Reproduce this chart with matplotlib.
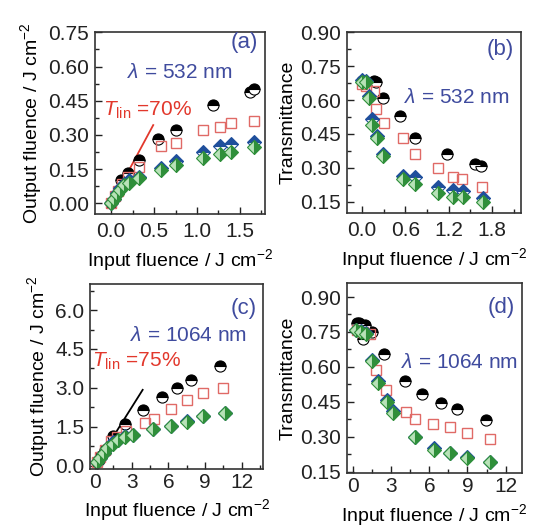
import matplotlib
matplotlib.use('Agg')
import matplotlib.pyplot as plt
from matplotlib.ticker import MultipleLocator

plt.rcParams['font.family'] = ['Liberation Sans', 'DejaVu Sans']
plt.rcParams['mathtext.fontset'] = 'custom'
plt.rcParams['mathtext.rm'] = 'Liberation Sans'
plt.rcParams['mathtext.it'] = 'Liberation Sans:italic'

# ─────────────────────────────────────────────
# Data
# ─────────────────────────────────────────────
# (a) output fluence, 532 nm
a_black_x = [0.0, 0.12, 0.20, 0.33, 0.54, 0.75, 1.19, 1.62, 1.66]
a_black_y = [0.0, 0.10, 0.135, 0.19, 0.28, 0.32, 0.43, 0.49, 0.50]
a_red_x = [0.0, 0.04, 0.08, 0.13, 0.20, 0.33, 0.58, 0.75, 1.07, 1.27, 1.40, 1.67]
a_red_y = [0.0, 0.03, 0.055, 0.085, 0.115, 0.16, 0.25, 0.265, 0.32, 0.335, 0.35, 0.36]
a_dia_x = [0.0, 0.03, 0.07, 0.10, 0.15, 0.21, 0.33, 0.58, 0.75, 1.07, 1.27, 1.40, 1.67]
a_blue_y = [0.0, 0.02, 0.045, 0.065, 0.085, 0.10, 0.115, 0.155, 0.185, 0.225, 0.25, 0.26, 0.27]
a_green_y = [0.0, 0.02, 0.04, 0.06, 0.08, 0.09, 0.11, 0.145, 0.17, 0.20, 0.215, 0.225, 0.245]

# (b) transmittance, 532 nm
b_black_x = [0.0, 0.16, 0.19, 0.29, 0.52, 0.73, 1.18, 1.57, 1.64]
b_black_y = [0.686, 0.686, 0.68, 0.61, 0.53, 0.43, 0.36, 0.315, 0.31]
b_red_x = [0.0, 0.05, 0.16, 0.20, 0.30, 0.565, 0.74, 1.05, 1.26, 1.39, 1.66]
b_red_y = [0.67, 0.66, 0.64, 0.56, 0.50, 0.434, 0.36, 0.30, 0.26, 0.25, 0.216]
b_dia_x = [0.0, 0.05, 0.095, 0.14, 0.21, 0.29, 0.565, 0.73, 1.05, 1.26, 1.40, 1.67]
b_blue_y = [0.69, 0.685, 0.62, 0.515, 0.44, 0.36, 0.265, 0.26, 0.215, 0.20, 0.195, 0.165]
b_green_y = [0.68, 0.68, 0.61, 0.49, 0.43, 0.35, 0.25, 0.23, 0.19, 0.17, 0.17, 0.15]

# (c) output fluence, 1064 nm
c_black_x = [0.3, 0.5, 0.8, 1.5, 2.45, 3.95, 5.45, 6.7, 7.85, 10.2]
c_black_y = [0.24, 0.39, 0.6, 1.13, 1.6, 2.15, 2.65, 3.0, 3.3, 3.85]
c_red_x = [0.2, 0.45, 0.8, 1.3, 1.8, 2.5, 4.1, 4.8, 6.2, 7.5, 8.8, 10.5]
c_red_y = [0.15, 0.33, 0.6, 0.95, 1.1, 1.35, 1.65, 1.8, 2.2, 2.55, 2.8, 3.0]
c_dia_x = [0.2, 0.4, 0.7, 1.0, 1.5, 1.9, 2.45, 3.1, 4.75, 6.2, 7.55, 8.8, 10.6]
c_blue_y = [0.15, 0.3, 0.5, 0.7, 0.9, 1.0, 1.15, 1.2, 1.42, 1.55, 1.72, 1.9, 2.05]
c_green_y = [0.14, 0.28, 0.48, 0.68, 0.85, 0.98, 1.12, 1.18, 1.4, 1.52, 1.7, 1.9, 2.02]

# (d) transmittance, 1064 nm
d_black_x = [0.3, 0.5, 0.75, 0.9, 1.5, 2.45, 4.1, 5.45, 6.9, 8.15, 10.45]
d_black_y = [0.79, 0.79, 0.72, 0.78, 0.75, 0.655, 0.54, 0.485, 0.445, 0.42, 0.37]
d_red_x = [0.3, 0.75, 1.3, 1.8, 2.55, 4.15, 4.9, 6.3, 7.6, 8.95, 10.75]
d_red_y = [0.76, 0.75, 0.74, 0.585, 0.50, 0.405, 0.375, 0.355, 0.34, 0.318, 0.289]
d_dia_x = [0.25, 0.6, 1.0, 1.5, 1.95, 2.7, 3.1, 4.85, 6.35, 7.65, 9.0, 10.75]
d_blue_y = [0.76, 0.755, 0.745, 0.63, 0.54, 0.46, 0.41, 0.30, 0.25, 0.23, 0.215, 0.19]
d_green_y = [0.76, 0.75, 0.74, 0.625, 0.53, 0.45, 0.40, 0.30, 0.245, 0.23, 0.21, 0.19]

# linear transmittance guide lines
a_lin_x = [0.0, 0.49]
a_lin_t = 0.70
c_lin_x = [0.0, 3.9]
c_lin_t = 0.75

BLUE_TXT = '#3f4b9e'
RED_TXT = '#e2382c'
RED_SQ = '#e06a66'
BLUE_DIA = '#1f4f9c'
GREEN_DIA = '#2f8f3a'

XLABEL = 'Input fluence / J cm$^{-2}$'
FS = 15


def draw_series(ax, bx, by, rx, ry, dx, blue_y, green_y):
    ax.plot(bx, by, ls='none', marker='o', ms=8, fillstyle='top',
            mfc='black', mfcalt='white', mec='black', mew=0.8)
    ax.plot(rx, ry, ls='none', marker='s', ms=7, mfc='none',
            mec=RED_SQ, mew=1.0)
    ax.plot(dx, blue_y, ls='none', marker='D', ms=7, fillstyle='top',
            mfc=BLUE_DIA, mfcalt='white', mec=BLUE_DIA, mew=0.8)
    ax.plot(dx, green_y, ls='none', marker='D', ms=7, fillstyle='right',
            mfc=GREEN_DIA, mfcalt='#b8e2b8', mec=GREEN_DIA, mew=0.8)


def style_axes(ax, xlim, ylim, xmaj, ymaj, xfmt, yfmt, xpad):
    ax.set_xlim(*xlim)
    ax.set_ylim(*ylim)
    ax.xaxis.set_major_locator(MultipleLocator(xmaj))
    ax.xaxis.set_minor_locator(MultipleLocator(xmaj / 2))
    ax.yaxis.set_major_locator(MultipleLocator(ymaj))
    ax.yaxis.set_minor_locator(MultipleLocator(ymaj / 2))
    ax.xaxis.set_major_formatter(xfmt)
    ax.yaxis.set_major_formatter(yfmt)
    ax.tick_params(which='both', direction='in', top=False, right=False,
                   labelsize=FS, colors='#222222', width=1.0)
    ax.tick_params(which='major', length=5, pad=4)
    ax.tick_params(which='minor', length=3)
    ax.tick_params(axis='x', which='major', pad=xpad)
    for sp in ax.spines.values():
        sp.set_linewidth(1.2)
        sp.set_color('#333333')


fig = plt.figure(figsize=(5.36, 5.31), dpi=100)

# ── (a) ──
ax = fig.add_axes([0.177, 0.597, 0.317, 0.343])
ax.plot(a_lin_x, [v * a_lin_t for v in a_lin_x], color=RED_TXT, lw=1.3)
draw_series(ax, a_black_x, a_black_y, a_red_x, a_red_y, a_dia_x, a_blue_y, a_green_y)
style_axes(ax, (-0.19, 1.79), (-0.047, 0.752), 0.5, 0.15, '{x:.1f}', '{x:.2f}', 6)
ax.set_xlabel(XLABEL, fontsize=14, labelpad=4)
ax.set_ylabel('Output fluence / J cm$^{-2}$', fontsize=14, labelpad=3)
ax.text(0.96, 0.94, '(a)', transform=ax.transAxes, ha='right', va='center',
        fontsize=16, color=BLUE_TXT)
ax.text(0.50, 0.775, r'$\lambda$ = 532 nm', transform=ax.transAxes,
        ha='center', va='center', fontsize=FS, color=BLUE_TXT)
ax.text(0.045, 0.57, r'$T_{\mathrm{lin}}$ =70%', transform=ax.transAxes,
        ha='left', va='center', fontsize=15, color=RED_TXT)

# ── (b) ──
ax = fig.add_axes([0.647, 0.599, 0.325, 0.341])
draw_series(ax, b_black_x, b_black_y, b_red_x, b_red_y, b_dia_x, b_blue_y, b_green_y)
style_axes(ax, (-0.21, 2.2), (0.10, 0.902), 0.6, 0.15, '{x:.1f}', '{x:.2f}', 6)
ax.set_xlabel(XLABEL, fontsize=14, labelpad=4)
ax.set_ylabel('Transmittance', fontsize=14, labelpad=3)
ax.text(0.96, 0.90, '(b)', transform=ax.transAxes, ha='right', va='center',
        fontsize=16, color=BLUE_TXT)
ax.text(0.63, 0.635, r'$\lambda$ = 532 nm', transform=ax.transAxes,
        ha='center', va='center', fontsize=FS, color=BLUE_TXT)

# ── (c) ──
ax = fig.add_axes([0.168, 0.117, 0.323, 0.348])
ax.plot(c_lin_x, [v * c_lin_t for v in c_lin_x], color='black', lw=1.3)
draw_series(ax, c_black_x, c_black_y, c_red_x, c_red_y, c_dia_x, c_blue_y, c_green_y)
style_axes(ax, (-0.4, 13.75), (-0.12, 7.0), 3, 1.5, '{x:.0f}', '{x:.1f}', 3)
ax.set_xlabel(XLABEL, fontsize=14, labelpad=4)
ax.set_ylabel('Output fluence / J cm$^{-2}$', fontsize=14, labelpad=3)
ax.text(0.96, 0.87, '(c)', transform=ax.transAxes, ha='right', va='center',
        fontsize=16, color=BLUE_TXT)
ax.text(0.57, 0.72, r'$\lambda$ = 1064 nm', transform=ax.transAxes,
        ha='center', va='center', fontsize=FS, color=BLUE_TXT)
ax.text(0.01, 0.58, r'$T_{\mathrm{lin}}$ =75%', transform=ax.transAxes,
        ha='left', va='center', fontsize=15, color=RED_TXT)

# ── (d) ──
ax = fig.add_axes([0.647, 0.109, 0.327, 0.358])
draw_series(ax, d_black_x, d_black_y, d_red_x, d_red_y, d_dia_x, d_blue_y, d_green_y)
style_axes(ax, (-0.5, 13.3), (0.144, 0.96), 3, 0.15, '{x:.0f}', '{x:.2f}', 3)
ax.set_xlabel(XLABEL, fontsize=14, labelpad=4)
ax.set_ylabel('Transmittance', fontsize=14, labelpad=3)
ax.text(0.96, 0.87, '(d)', transform=ax.transAxes, ha='right', va='center',
        fontsize=16, color=BLUE_TXT)
ax.text(0.645, 0.58, r'$\lambda$ = 1064 nm', transform=ax.transAxes,
        ha='center', va='center', fontsize=FS, color=BLUE_TXT)

fig.savefig('out.png', dpi=100)
